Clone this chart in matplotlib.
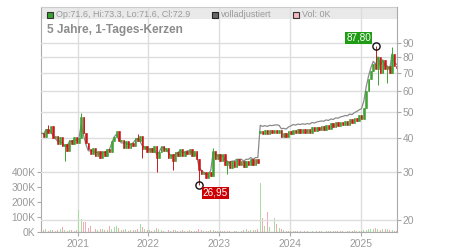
import matplotlib
matplotlib.use('Agg')
import matplotlib.pyplot as plt
import matplotlib.dates as mdates
import matplotlib.ticker as mticker
from matplotlib.patches import Rectangle
import pandas as pd

plt.rcParams['font.family'] = ['Liberation Sans', 'DejaVu Sans']

# ---------------- data ----------------
start_date = '2020-06-28'
end_date = '2025-07-03'

closes = [
    42, 40.5, 43.5, 42, 44.5, 40, 41, 38, 40.5, 37.5,
    38, 36, 39.5, 38, 40.5, 38.5, 40, 48, 42, 38.5,
    36.5, 35, 37, 34.5, 36, 34, 36, 34.5, 36.5, 35.5,
    39, 40.5, 42.5, 39, 39.5, 37, 39, 37, 38.5, 37.5,
    40, 39, 41, 36.5, 37.5, 35.5, 37, 35.5, 37.5, 34,
    35.5, 37.5, 36, 37, 34, 35, 33, 35.5, 34.5, 36.5,
    34.5, 36, 35, 36.5, 34.5, 36, 33.5, 30.5, 29.5, 30,
    28.5, 30, 29, 36, 33.5, 35, 33, 35, 32, 33,
    31, 33, 31.5, 33.5, 32, 33, 31.5, 33, 32, 33.5,
    32, 33.5, 32.5, 42.5, 41.5, 43, 41.5, 43, 42, 43,
    42, 43, 40.5, 42, 40.5, 42.5, 41.5, 43, 42, 43.5,
    42, 43.5, 42, 43.5, 42, 44, 42.5, 44, 43, 44.5,
    43, 45, 43.5, 45.5, 44, 46, 44.5, 46, 45, 46.5,
    45, 47, 45.5, 47.5, 46.5, 49, 47, 52, 60, 66,
    71, 75, 72, 80, 70, 78, 72, 74, 70, 82, 74, 72.9,
]

adjusted = [
    42, 41.5, 43, 43, 42.5, 41, 40, 39, 39, 38.5,
    37.5, 37.5, 39, 39, 39.5, 39.5, 40, 45, 41, 38,
    36, 36, 36, 35.5, 35.5, 35, 35.5, 35.5, 36, 36.5,
    38.5, 40.5, 41.5, 39.5, 38.5, 38.5, 38.5, 38, 38, 38.5,
    39.5, 40, 39, 37.5, 37, 36.5, 36.5, 36.5, 36.5, 35,
    35.5, 37, 37, 36.5, 35.5, 34.5, 34.5, 35, 35.5, 36,
    35.5, 35.5, 36, 36, 35.5, 35.5, 34.5, 31.5, 30.5, 30,
    29.5, 29.5, 30.5, 35.5, 35, 34.5, 34.5, 34.5, 33.5, 33,
    32.5, 33, 33, 33.5, 33.5, 33.5, 33, 33.5, 33.5, 34,
    33.5, 34, 34, 44.7, 44.3, 44.6, 44.3, 44.7, 44.6, 44.8,
    44.9, 44.7, 43.4, 43.6, 43.3, 44.1, 44.5, 45, 44.8, 45.2,
    45, 45.3, 45.1, 45.4, 45.2, 45.8, 45.6, 46, 46.2, 46.4,
    46.3, 46.8, 46.6, 47.2, 47, 47.6, 47.5, 48, 48.2, 48.6,
    48.5, 49.2, 49, 49.8, 50.3, 51, 51.5, 55, 62, 68,
    73, 77, 75, 80, 74, 78, 74, 74, 72, 82, 76, 75,
]

volumes_k = [
    15, 12, 18, 10, 14, 12, 10, 15, 22, 33,
    12, 10, 14, 12, 10, 15, 147, 90, 67, 70,
    30, 40, 25, 20, 15, 22, 18, 12, 15, 40,
    20, 35, 40, 25, 15, 12, 18, 10, 14, 12,
    15, 20, 53, 33, 18, 12, 15, 10, 12, 25,
    18, 12, 10, 15, 12, 10, 14, 12, 8, 10,
    12, 8, 10, 15, 6, 10, 8, 20, 12, 10,
    8, 10, 15, 12, 8, 10, 6, 5, 8, 10,
    5, 0, 4, 6, 3, 8, 15, 20, 10, 12,
    12, 15, 18, 327, 93, 40, 133, 35, 67, 93,
    53, 30, 20, 15, 8, 10, 5, 4, 6, 8,
    5, 3, 4, 6, 0, 5, 3, 6, 4, 5,
    3, 6, 8, 4, 5, 10, 6, 4, 8, 5,
    4, 6, 8, 12, 6, 10, 8, 12, 15, 20,
    18, 22, 25, 20, 15, 18, 22, 20, 12, 15, 10, 8,
]

open_overrides = {93: 41.8}
high_wicks = {3: 45, 17: 49.5, 41: 41.5, 73: 37, 142: 87.8, 149: 87.0}
low_wicks = {10: 33, 43: 34, 49: 30, 56: 30.5, 67: 26.95, 79: 29.5,
             143: 63, 147: 64, 151: 67}

price_ticks = [20, 30, 40, 50, 60, 70, 80, 90]
volume_ticks_k = [0, 100, 200, 300, 400]
year_ticks = ['2021', '2022', '2023', '2024', '2025']

max_idx, max_val, max_text = 142, 87.80, '87,80'
min_idx, min_val, min_text = 67, 26.95, '26,95'

title_text = '5 Jahre, 1-Tages-Kerzen'
legend_texts = ['Op:71.6, Hi:73.3, Lo:71.6, Cl:72.9', 'volladjustiert', 'Vol: 0K']

# ---------------- derived ----------------
dates = pd.date_range(start_date, end_date, periods=len(closes))
x = mdates.date2num(dates)
opens = [closes[0]] + closes[:-1]
for k, v in open_overrides.items():
    opens[k] = v
highs = [max(o, c) for o, c in zip(opens, closes)]
lows = [min(o, c) for o, c in zip(opens, closes)]
for k, v in high_wicks.items():
    highs[k] = v
for k, v in low_wicks.items():
    lows[k] = v

GREEN = '#3da332'
RED = '#c81a1a'
VGREEN = '#a8dca2'
VRED = '#f3a9b1'
GRID = '#dddddd'
AXC = '#aaaaaa'
TXT = '#9a9a9a'

W, H = 450, 250
fig = plt.figure(figsize=(4.5, 2.5), dpi=100)
L, R, B, T = 41 / W, 397 / W, 1 - 232 / H, 1 - 7 / H
axv = fig.add_axes([L, B, R - L, T - B])
axp = axv.twinx()

# volume axis (left)
axv.set_ylim(0, 1500)
axv.set_xlim(mdates.date2num(pd.Timestamp('2020-06-27')),
             mdates.date2num(pd.Timestamp('2025-07-04')))
axv.set_axisbelow(True)
vcols = [VGREEN if c >= o else VRED for o, c in zip(opens, closes)]
axv.bar(x, volumes_k, width=5, color=vcols, linewidth=0, zorder=2)
axv.set_yticks(volume_ticks_k)
axv.set_yticklabels([f'{v}K' for v in volume_ticks_k])
year_pos = [mdates.date2num(pd.Timestamp(f'{y}-01-01')) for y in year_ticks]
axv.set_xticks(year_pos)
axv.set_xticklabels(year_ticks)
axv.grid(axis='x', color=GRID, linewidth=1.0, zorder=0.5)
axv.tick_params(axis='y', left=True, length=3, width=0.8, color=AXC,
                labelcolor=TXT, labelsize=7.4, pad=1)
axv.tick_params(axis='x', length=3, width=0.8, color=AXC,
                labelcolor=TXT, labelsize=7.4, pad=2)
for s in ['left', 'bottom']:
    axv.spines[s].set_color(AXC)
axv.spines['top'].set_color('#cccccc')
axv.spines['right'].set_visible(False)

# header band
hb = 12 / 225
axv.add_patch(Rectangle((0, 1 - hb), 1, hb, transform=axv.transAxes,
                        facecolor='#e9e9e9', edgecolor='none', zorder=0.1))
axv.axhline(1 - hb, color='#d4d4d4', linewidth=1.0, zorder=0.6)

# price axis (right, log)
axp.set_yscale('log')
axp.set_ylim(18.06, 122.2)
axp.yaxis.set_major_locator(mticker.FixedLocator(price_ticks))
axp.yaxis.set_minor_locator(mticker.NullLocator())
axp.yaxis.set_major_formatter(mticker.FixedFormatter([str(p) for p in price_ticks]))
axp.set_axisbelow(True)
axp.grid(axis='y', color=GRID, linewidth=1.0, zorder=0.5)
axp.tick_params(axis='y', length=3, width=0.8, color=AXC,
                labelcolor=TXT, labelsize=7.4, pad=1)
axp.spines['right'].set_color(AXC)
for s in ['left', 'top', 'bottom']:
    axp.spines[s].set_visible(False)

axp.plot(x, adjusted, color='#8a8a8a', linewidth=0.9, zorder=2)
ccols = [GREEN if c >= o else RED for o, c in zip(opens, closes)]
axp.vlines(x, lows, highs, colors=ccols, linewidth=0.7, zorder=3)
bottoms = [min(o, c) for o, c in zip(opens, closes)]
heights = [abs(c - o) for o, c in zip(opens, closes)]
axp.bar(x, heights, bottom=bottoms, width=8, color=ccols, edgecolor=ccols,
        linewidth=0.4, zorder=3)

# extreme markers and labels
for idx, val, txt, off, fc in [(max_idx, max_val, max_text, (-17, 8), '#1e9c14'),
                               (min_idx, min_val, min_text, (16.5, -8), '#cc0000')]:
    axp.plot([x[idx]], [val], 'o', mfc='none', mec='#111111', ms=5.2, mew=1.0, zorder=5)
    axp.annotate(txt, xy=(x[idx], val), xytext=off, textcoords='offset pixels',
                 ha='center', va='center', color='white', fontsize=7.2, zorder=6,
                 bbox=dict(boxstyle='square,pad=0.12', fc=fc, ec='none'))

# header legend and title
def fx(px):
    return px / W

def fy(py):
    return 1 - py / H

sq = [(46.5, '#3aa22e', '#333333'), (212, '#666666', '#222222'), (292.5, '#f2b8c0', '#333333')]
txt_x = [56, 220.5, 302]
for (sx, fcol, ecol), tx, t in zip(sq, txt_x, legend_texts):
    fig.add_artist(Rectangle((fx(sx), fy(17.8)), 6 / W, 6 / H, transform=fig.transFigure,
                             facecolor=fcol, edgecolor=ecol, linewidth=0.8))
    fig.text(fx(tx), fy(14.8), t, color=TXT, fontsize=6.5, ha='left', va='center')

fig.text(fx(47), fy(29.5), title_text, color='#8c8c8c', fontsize=8.6,
         fontweight='bold', ha='left', va='center')

fig.savefig('out.png', dpi=100)
